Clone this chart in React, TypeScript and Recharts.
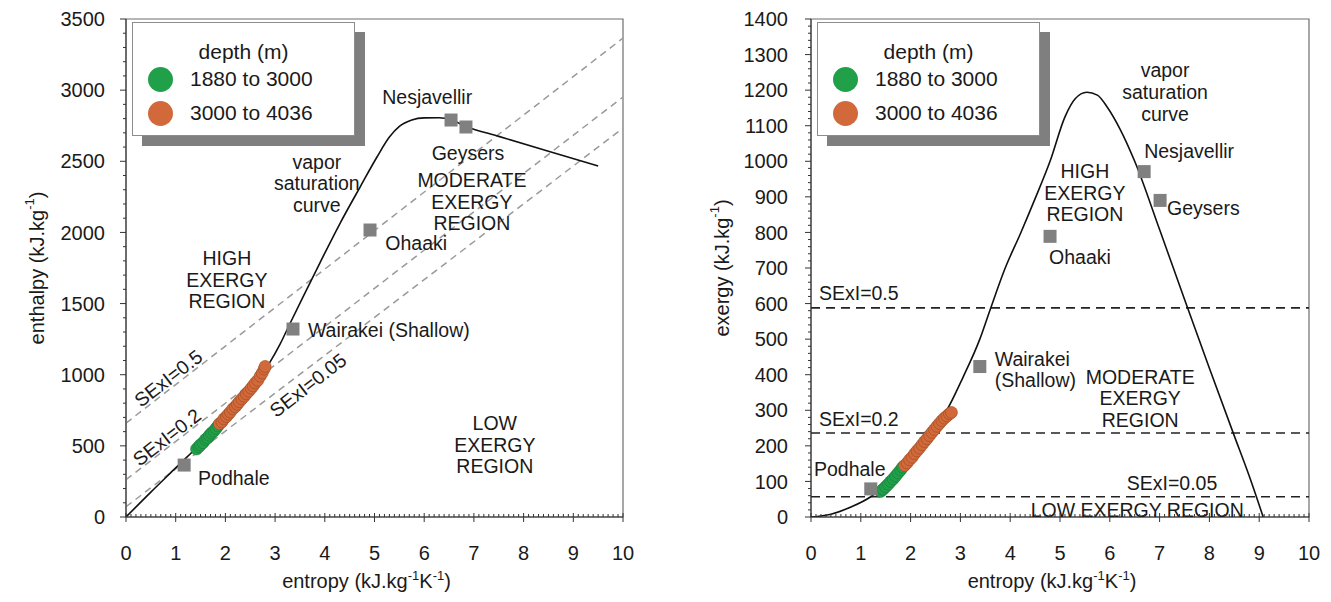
import React from "react";
import {
  ComposedChart,
  Line,
  Scatter,
  XAxis,
  YAxis,
  ReferenceLine,
  ReferenceDot,
  ReferenceArea,
  Legend,
  Label,
} from "recharts";

const FONT = "'Liberation Sans', Arial, sans-serif";
const INK = "#1a1a1a";

// axis ticks
const entropyTicks = Array.from({ length: 101 }, (_, i) => i / 10);
const enthalpyTicks = Array.from({ length: 36 }, (_, i) => i * 100);
const exergyTicks = Array.from({ length: 71 }, (_, i) => i * 20);

// depth classes (legend)
const depthBins = ["1880 to 3000", "3000 to 4036"];
const depthColors = ["#21a04a", "#d2693a"];
const depthEdges = ["#177a37", "#9a4a22"];

// vapor saturation curve, enthalpy-entropy
const satEntropyH = [0, 0.5, 1.0, 1.5, 2.0, 2.5, 2.9, 3.1, 3.3, 3.56, 3.9, 4.31, 4.71, 5.05, 5.3, 5.5, 5.75, 6.0, 6.3, 6.55, 6.84, 7.5, 8.5, 9.5];
const satEnthalpy = [0, 175, 345, 515, 700, 895, 1090, 1215, 1360, 1546, 1785, 2066, 2319, 2530, 2670, 2745, 2790, 2805, 2806, 2790, 2745, 2675, 2570, 2467];

// vapor saturation curve, exergy-entropy
const satEntropyE = [0, 0.4, 0.8, 1.2, 1.6, 2.05, 2.39, 2.73, 3.05, 3.39, 3.59, 3.9, 4.2, 4.5, 4.8, 5.1, 5.3, 5.54, 5.75, 5.95, 6.2, 6.5, 7.0, 7.5, 8.0, 8.5, 8.8, 9.08];
const satExergy = [0, 8, 28, 57, 105, 169, 237, 301, 392, 500, 580, 700, 795, 895, 1000, 1125, 1175, 1194, 1186, 1152, 1092, 1000, 808, 612, 418, 228, 115, 0];

// geothermal fields
const wellNames = ["Podhale", "Wairakei (Shallow)", "Ohaaki", "Nesjavellir", "Geysers"];
const wellEntropyH = [1.17, 3.36, 4.91, 6.54, 6.84];
const wellEnthalpy = [365, 1321, 2017, 2790, 2741];
const wellEntropyE = [1.2, 3.39, 4.8, 6.69, 7.01];
const wellExergy = [79, 423, 789, 971, 890];

// reservoir samples, 1880-3000 m
const shallowEntropyH = [1.42, 1.47, 1.5, 1.55, 1.6, 1.64, 1.68, 1.72, 1.77, 1.81, 1.85];
const shallowEnthalpy = [478, 495, 508, 522, 545, 556, 574, 590, 604, 622, 640];
const shallowEntropyE = [1.4, 1.45, 1.5, 1.55, 1.6, 1.65, 1.7, 1.75, 1.8, 1.84];
const shallowExergy = [72, 78, 85, 92, 100, 107, 115, 124, 132, 140];

// reservoir samples, 3000-4036 m
const deepEntropyH = [1.88, 1.93, 1.97, 2.02, 2.06, 2.1, 2.15, 2.2, 2.24, 2.28, 2.33, 2.38, 2.42, 2.47, 2.52, 2.56, 2.6, 2.65, 2.7, 2.74, 2.78, 2.8];
const deepEnthalpy = [655, 668, 690, 705, 722, 738, 760, 775, 793, 810, 830, 848, 866, 884, 905, 922, 942, 960, 990, 1012, 1040, 1058];
const deepEntropyE = [1.88, 1.93, 1.98, 2.03, 2.08, 2.13, 2.18, 2.23, 2.28, 2.33, 2.38, 2.43, 2.48, 2.53, 2.58, 2.63, 2.68, 2.73, 2.78, 2.82];
const deepExergy = [145, 152, 161, 168, 178, 186, 194, 203, 212, 220, 229, 238, 246, 255, 263, 271, 278, 284, 290, 294];

// specific exergy index limits
const sexiLabels = ["SExI=0.5", "SExI=0.2", "SExI=0.05"];
const sexiEnthalpyAt0 = [660, 262, 72];
const sexiEnthalpyAt10 = [3366, 2952, 2733];
const sexiExergy = [588, 236, 57];

const pts = (xs: number[], vs: number[]) => xs.map((s, i) => ({ s, v: vs[i] }));

type Note = { s: number; v: number; lines: string[]; anchor?: string; angle?: number; lh?: number };

const leftNotes: Note[] = [
  { s: 3.84, v: 2495, lines: ["vapor", "saturation", "curve"] },
  { s: 2.03, v: 1820, lines: ["HIGH", "EXERGY", "REGION"] },
  { s: 6.96, v: 2368, lines: ["MODERATE", "EXERGY", "REGION"] },
  { s: 6.88, v: 2558, lines: [wellNames[4]] },
  { s: 6.06, v: 2951, lines: [wellNames[3]] },
  { s: 5.84, v: 1925, lines: [wellNames[2]] },
  { s: 3.66, v: 1314, lines: [wellNames[1]], anchor: "start" },
  { s: 1.45, v: 274, lines: [wellNames[0]], anchor: "start" },
  { s: 7.42, v: 660, lines: ["LOW", "EXERGY", "REGION"] },
  { s: 0.85, v: 976, lines: [sexiLabels[0]], angle: -37.7 },
  { s: 0.82, v: 562, lines: [sexiLabels[1]], angle: -37.7 },
  { s: 3.66, v: 928, lines: [sexiLabels[2]], angle: -37.7 },
];

const rightNotes: Note[] = [
  { s: 7.11, v: 1256, lines: ["vapor", "saturation", "curve"], lh: 22 },
  { s: 6.69, v: 1028, lines: [wellNames[3]], anchor: "start" },
  { s: 5.5, v: 972, lines: ["HIGH", "EXERGY", "REGION"] },
  { s: 7.15, v: 870, lines: [wellNames[4]], anchor: "start" },
  { s: 4.78, v: 730, lines: [wellNames[2]], anchor: "start" },
  { s: 0.16, v: 631, lines: [sexiLabels[0]], anchor: "start" },
  { s: 0.16, v: 276, lines: [sexiLabels[1]], anchor: "start" },
  { s: 0.06, v: 135, lines: [wellNames[0]], anchor: "start" },
  { s: 3.69, v: 445, lines: ["Wairakei", "(Shallow)"], anchor: "start", lh: 21 },
  { s: 6.61, v: 394, lines: ["MODERATE", "EXERGY", "REGION"] },
  { s: 7.25, v: 96, lines: [sexiLabels[2]] },
  { s: 6.55, v: 20, lines: ["LOW EXERGY REGION"] },
];

const noteShape = (n: Note) => (p: any) => (
  <text
    x={p.cx}
    y={p.cy}
    textAnchor={(n.anchor || "middle") as any}
    dominantBaseline="central"
    fontSize={19.5}
    fontFamily={FONT}
    fill={INK}
    transform={n.angle ? `rotate(${n.angle} ${p.cx} ${p.cy})` : undefined}
  >
    {n.lines.map((t, i) => (
      <tspan key={i} x={p.cx} dy={i === 0 ? 0 : n.lh || 21.5}>
        {t}
      </tspan>
    ))}
  </text>
);

const square = (p: any) => <rect x={p.cx - 6.5} y={p.cy - 6.5} width={13} height={13} fill="#808080" />;

const disc = (fill: string, edge: string) => (p: any) => (
  <circle cx={p.cx} cy={p.cy} r={6} fill={fill} stroke={edge} strokeWidth={0.6} />
);

const XTick = ({ x, y, payload }: any) => {
  const v = payload.value;
  const major = Math.abs(v - Math.round(v)) < 1e-6;
  return (
    <g>
      <line x1={x} x2={x} y1={major ? y + 5 : y} y2={major ? y - 4 : y - 3} stroke="#333" strokeWidth={1} />
      {major && (
        <text x={x} y={y + 43} textAnchor="middle" fontSize={20} fontFamily={FONT} fill={INK}>
          {Math.round(v)}
        </text>
      )}
    </g>
  );
};

const makeYTick = (step: number, gap: number) => ({ x, y, payload }: any) => {
  const v = payload.value;
  const major = v % step === 0;
  return (
    <g>
      <line x1={x} x2={x - (major ? 6 : 3)} y1={y} y2={y} stroke="#333" strokeWidth={1} />
      {major && (
        <text x={x - gap} y={y} dy="0.36em" textAnchor="end" fontSize={20} fontFamily={FONT} fill={INK}>
          {v}
        </text>
      )}
    </g>
  );
};

const XTitle = ({ viewBox }: any) => (
  <text
    x={viewBox.x + viewBox.width / 2 - 8}
    y={viewBox.y + 71}
    textAnchor="middle"
    fontSize={20}
    fontFamily={FONT}
    fill={INK}
  >
    entropy (kJ.kg
    <tspan dy={-8} fontSize={13}>-1</tspan>
    <tspan dy={8}>K</tspan>
    <tspan dy={-8} fontSize={13}>-1</tspan>
    <tspan dy={8}>)</tspan>
  </text>
);

const yTitle = (name: string) => ({ viewBox }: any) => {
  const cx = viewBox.x + 37;
  const cy = viewBox.y + viewBox.height / 2;
  return (
    <text
      x={cx}
      y={cy}
      textAnchor="middle"
      dominantBaseline="central"
      fontSize={20}
      fontFamily={FONT}
      fill={INK}
      transform={`rotate(-90 ${cx} ${cy})`}
    >
      {name} (kJ.kg
      <tspan dy={-8} fontSize={13}>-1</tspan>
      <tspan dy={8}>)</tspan>
    </text>
  );
};

const DepthLegend = ({ payload }: any) => {
  const items = (payload || []).filter((p: any) => depthBins.includes(p.value));
  return (
    <div
      style={{
        position: "relative",
        width: 223,
        height: 114,
        boxSizing: "border-box",
        border: "1px solid #8c8c8c",
        background: "#fff",
        boxShadow: "10px 10px 0 #7f7f7f",
        fontFamily: FONT,
        fontSize: 21,
        color: INK,
      }}
    >
      <div style={{ position: "absolute", left: 0, right: 0, top: 17, textAlign: "center", lineHeight: "24px" }}>
        depth (m)
      </div>
      {items.map((p: any, i: number) => (
        <div key={p.value} style={{ position: "absolute", left: 15, top: 43 + i * 34, height: 26, display: "flex", alignItems: "center" }}>
          <span
            style={{
              display: "inline-block",
              width: 25,
              height: 25,
              borderRadius: "50%",
              background: depthColors[depthBins.indexOf(p.value)],
              marginRight: 17,
            }}
          />
          <span style={{ lineHeight: "26px" }}>{p.value}</span>
        </div>
      ))}
    </div>
  );
};

type PanelProps = {
  left: number;
  width: number;
  marginRight: number;
  yMax: number;
  yTicks: number[];
  yStep: number;
  yGap: number;
  yName: string;
  curve: { s: number; v: number }[];
  shallow: { s: number; v: number }[];
  deep: { s: number; v: number }[];
  wells: { s: number; v: number }[];
  notes: Note[];
  children?: React.ReactNode;
};

function Panel(props: PanelProps) {
  return (
    <div style={{ position: "absolute", left: props.left, top: 0 }}>
      <ComposedChart width={props.width} height={602} margin={{ top: 19, right: props.marginRight, left: 0, bottom: 0 }}>
        <XAxis
          type="number"
          dataKey="s"
          domain={[0, 10]}
          ticks={entropyTicks}
          interval={0}
          height={85}
          tickSize={0}
          tickMargin={0}
          tickLine={false}
          tick={(p: any) => <XTick {...p} />}
          axisLine={{ stroke: "#333" }}
          allowDataOverflow
        >
          <Label content={<XTitle />} />
        </XAxis>
        <YAxis
          type="number"
          dataKey="v"
          domain={[0, props.yMax]}
          ticks={props.yTicks}
          interval={0}
          width={126}
          tickSize={0}
          tickMargin={0}
          tickLine={false}
          tick={makeYTick(props.yStep, props.yGap)}
          axisLine={{ stroke: "#333" }}
          allowDataOverflow
        >
          <Label content={yTitle(props.yName)} />
        </YAxis>
        <ReferenceArea x1={0} x2={10} y1={0} y2={props.yMax} fill="none" fillOpacity={0} stroke="#6e6e6e" strokeWidth={1.2} />
        {props.children}
        <Line
          data={props.curve}
          dataKey="v"
          type="monotone"
          stroke="#111"
          strokeWidth={1.6}
          dot={false}
          legendType="none"
          isAnimationActive={false}
        />
        <Scatter name={depthBins[0]} data={props.shallow} fill={depthColors[0]} shape={disc(depthColors[0], depthEdges[0])} isAnimationActive={false} />
        <Scatter name={depthBins[1]} data={props.deep} fill={depthColors[1]} shape={disc(depthColors[1], depthEdges[1])} isAnimationActive={false} />
        <Scatter name="fields" data={props.wells} fill="#808080" shape={square} legendType="none" isAnimationActive={false} />
        {props.notes.map((n, i) => (
          <ReferenceDot key={i} x={n.s} y={n.v} r={0} ifOverflow="visible" shape={noteShape(n)} />
        ))}
        <Legend
          layout="vertical"
          align="center"
          verticalAlign="middle"
          content={<DepthLegend />}
          wrapperStyle={{ left: 132, top: 22, width: 223, height: 114 }}
        />
      </ComposedChart>
    </div>
  );
}

export default function App() {
  const sexiLines = sexiLabels.map((_, i) => [
    { s: 0, v: sexiEnthalpyAt0[i] },
    { s: 10, v: sexiEnthalpyAt10[i] },
  ]);
  return (
    <div style={{ position: "absolute", left: 0, top: 0, width: 1331, height: 602, background: "#fff", fontFamily: FONT }}>
      <Panel
        left={0}
        width={660}
        marginRight={37}
        yMax={3500}
        yTicks={enthalpyTicks}
        yStep={500}
        yGap={21}
        yName="enthalpy"
        curve={pts(satEntropyH, satEnthalpy)}
        shallow={pts(shallowEntropyH, shallowEnthalpy)}
        deep={pts(deepEntropyH, deepEnthalpy)}
        wells={pts(wellEntropyH, wellEnthalpy)}
        notes={leftNotes}
      >
        {sexiLines.map((d, i) => (
          <Line
            key={sexiLabels[i]}
            data={d}
            dataKey="v"
            type="linear"
            stroke="#9a9a9a"
            strokeWidth={1.5}
            strokeDasharray="7 5"
            dot={false}
            legendType="none"
            isAnimationActive={false}
          />
        ))}
      </Panel>
      <Panel
        left={685}
        width={646}
        marginRight={22}
        yMax={1400}
        yTicks={exergyTicks}
        yStep={100}
        yGap={23}
        yName="exergy"
        curve={pts(satEntropyE, satExergy)}
        shallow={pts(shallowEntropyE, shallowExergy)}
        deep={pts(deepEntropyE, deepExergy)}
        wells={pts(wellEntropyE, wellExergy)}
        notes={rightNotes}
      >
        {sexiExergy.map((v) => (
          <ReferenceLine key={v} y={v} stroke="#222" strokeWidth={1.6} strokeDasharray="9 6" />
        ))}
      </Panel>
    </div>
  );
}
